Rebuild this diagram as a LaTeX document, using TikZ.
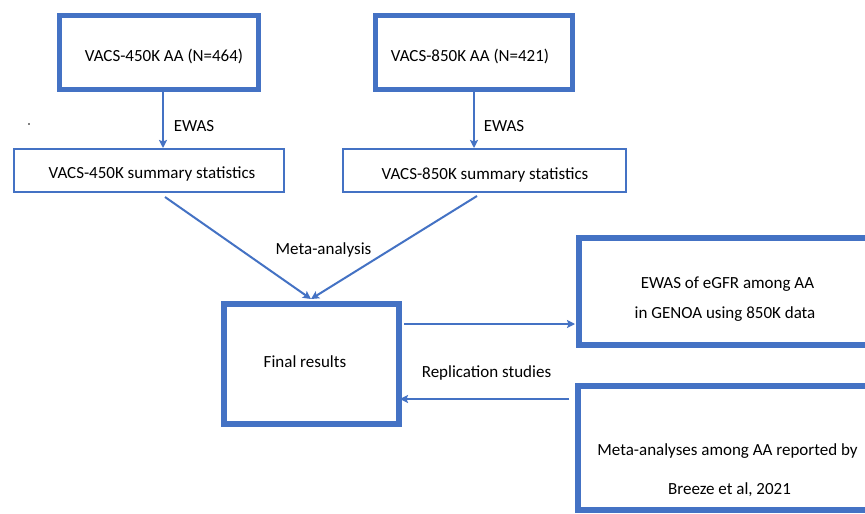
\documentclass[tikz,border=0pt]{standalone}
\usepackage{fontspec}
\setmainfont{Carlito}
\usetikzlibrary{arrows.meta}
\definecolor{obl}{HTML}{4472C4}
\begin{document}
\begin{tikzpicture}[x=1pt,y=-1pt,
  boxthick/.style={draw=obl,line width=5pt,inner sep=0pt,outer sep=0pt},
  boxfinal/.style={draw=obl,line width=6pt,inner sep=0pt,outer sep=0pt},
  boxthin/.style={draw=obl,line width=2.4pt,inner sep=0pt,outer sep=0pt},
  txt/.style={anchor=base,inner sep=0pt,font=\fontsize{17}{20}\selectfont},
  conn/.style={draw=obl,line width=2pt,-{Stealth[length=8pt,width=8pt,inset=1.5pt]}}]
\clip (0,0) rectangle (865,514);
\fill[white] (0,0) rectangle (865,514);
% boxes
\node[boxthick,minimum width=199pt,minimum height=74pt] (tl) at (159,52.5) {};
\node[boxthick,minimum width=197pt,minimum height=74pt] (tr) at (474,52.5) {};
\node[boxthin,minimum width=269.6pt,minimum height=42.6pt] (sl) at (149,170.5) {};
\node[boxthin,minimum width=282.6pt,minimum height=42.6pt] (sr) at (484.5,170.5) {};
\node[boxfinal,minimum width=175pt,minimum height=120pt] (fin) at (311.5,364) {};
\node[boxfinal,minimum width=301pt,minimum height=107pt] (ew) at (729.5,291.5) {};
\node[boxfinal,minimum width=302pt,minimum height=124pt] (ma) at (729,448) {};
% texts
\node[txt] (tlt) at (164,61.5) {VACS-450K AA (N=464)};
\node[txt] (trt) at (470,61.7) {VACS-850K AA (N=421)};
\node[txt] (slt) at (152,178) {VACS-450K summary statistics};
\node[txt] (srt) at (485,179) {VACS-850K summary statistics};
\node[txt] (e1) at (194,131) {EWAS};
\node[txt] (e2) at (504,131) {EWAS};
\node[txt] (mal) at (323.5,254) {Meta-analysis};
\node[txt] (fint) at (305,367) {Final results};
\node[txt] (rep) at (486.5,377) {Replication studies};
\node[txt] (ew1) at (727.5,288) {EWAS of eGFR among AA};
\node[txt] (ew2) at (725,318) {in GENOA using 850K data};
\node[txt] (ma1) at (727.5,455) {Meta-analyses among AA reported by};
\node[txt] (ma2) at (729.5,494) {Breeze et al, 2021};
% dot
\fill[black] (29,124) circle (0.9pt);
% connectors
\coordinate (a1) at (163,92);
\coordinate (a1e) at (163,148);
\coordinate (a2) at (474,92);
\coordinate (a2e) at (474,148);
\coordinate (d1) at (165,197);
\coordinate (d2) at (477,196);
\coordinate (dt) at (311,299);
\coordinate (r1) at (404,324);
\coordinate (r1e) at (575,324);
\coordinate (r2) at (569,399);
\coordinate (r2e) at (400,399);
\draw[conn] (a1) -- (a1e);
\draw[conn] (a2) -- (a2e);
\draw[conn] (d1) -- (dt);
\draw[conn] (d2) -- (dt);
\draw[conn] (r1) -- (r1e);
\draw[conn] (r2) -- (r2e);
\end{tikzpicture}
\end{document}
